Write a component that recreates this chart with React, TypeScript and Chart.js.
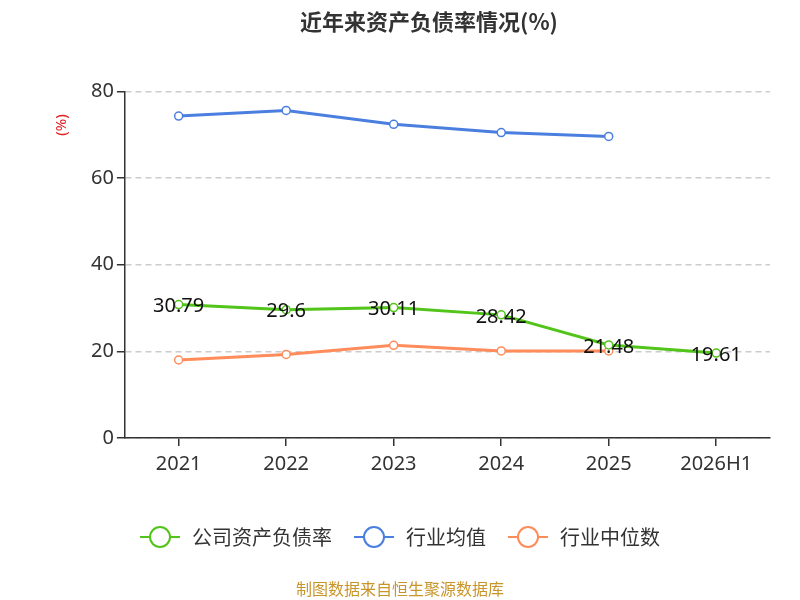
import React, { useEffect, useRef } from "react";
import { Chart, registerables } from "chart.js";
Chart.register(...registerables);

const categories = ["2021", "2022", "2023", "2024", "2025", "2026H1"];
const company = [30.79, 29.6, 30.11, 28.42, 21.48, 19.61];
const industryAvg = [74.3, 75.6, 72.4, 70.5, 69.6, null];
const industryMedian = [18.0, 19.3, 21.4, 20.1, 20.1, null];
const yTicks = [0, 20, 40, 60, 80];
const seriesNames = ["公司资产负债率", "行业均值", "行业中位数"];
const seriesColors = ["#52c41a", "#4a7fe0", "#ff8c5a"];

const labelPlugin = {
  id: "extras",
  afterDatasetsDraw(chart: any) {
    const ctx = chart.ctx;
    const meta = chart.getDatasetMeta(0);
    ctx.save();
    ctx.font = "20px 'Noto Sans', sans-serif";
    ctx.fillStyle = "#111";
    ctx.textAlign = "center";
    ctx.textBaseline = "middle";
    meta.data.forEach((p: any, i: number) => {
      ctx.fillText(String(company[i]), p.x, p.y + 2);
    });
    ctx.restore();
    // y title
    ctx.save();
    ctx.translate(62, 125);
    ctx.rotate(-Math.PI / 2);
    ctx.font = "15px 'Noto Sans', sans-serif";
    ctx.fillStyle = "#e02020";
    ctx.textAlign = "center";
    ctx.textBaseline = "middle";
    ctx.fillText("(%)", 0, 0);
    ctx.restore();
    // legend
    ctx.save();
    ctx.font = "20px 'Noto Sans CJK SC', sans-serif";
    ctx.textBaseline = "middle";
    const widths = seriesNames.map((n) => ctx.measureText(n).width);
    const itemW = widths.map((w) => 40 + 12 + w);
    const gap = 22;
    const total = itemW.reduce((a, b) => a + b, 0) + gap * 2;
    let x = 400 - total / 2;
    const y = 537;
    seriesNames.forEach((n, i) => {
      ctx.strokeStyle = seriesColors[i];
      ctx.lineWidth = 2;
      ctx.beginPath();
      ctx.moveTo(x, y);
      ctx.lineTo(x + 40, y);
      ctx.stroke();
      ctx.beginPath();
      ctx.arc(x + 20, y, 10, 0, Math.PI * 2);
      ctx.fillStyle = "#fff";
      ctx.fill();
      ctx.stroke();
      ctx.fillStyle = "#333";
      ctx.textAlign = "left";
      ctx.fillText(n, x + 52, y);
      x += itemW[i] + gap;
    });
    ctx.restore();
    ctx.save();
    ctx.font = "16px 'Noto Sans CJK SC', sans-serif";
    ctx.fillStyle = "#c8952a";
    ctx.textAlign = "center";
    ctx.textBaseline = "middle";
    ctx.fillText("制图数据来自恒生聚源数据库", 400, 589);
    ctx.restore();
  },
};

export default function App() {
  const ref = useRef<HTMLCanvasElement>(null);
  useEffect(() => {
    document.body.style.margin = "0";
    const mk = (label: string, data: any[], color: string) => ({
      label, data, borderColor: color, backgroundColor: "#fff",
      pointBackgroundColor: "#fff", pointBorderColor: color, pointRadius: 4,
      pointBorderWidth: 1.5, borderWidth: 3, tension: 0, spanGaps: false,
    });
    const chart = new Chart(ref.current!, {
      type: "line",
      data: {
        labels: categories,
        datasets: seriesNames.map((n, i) => mk(n, [company, industryAvg, industryMedian][i], seriesColors[i])),
      },
      options: {
        animation: false,
        responsive: false,
        layout: { padding: { left: 88, right: 30, bottom: 118, top: 0 } },
        plugins: {
          title: {
            display: true, text: "近年来资产负债率情况(%)",
            font: { size: 22, weight: "bold", family: "'Noto Sans CJK SC', sans-serif" },
            color: "#333", padding: { top: 8, bottom: 57 },
          },
          legend: { display: false },
          tooltip: { enabled: false },
        },
        scales: {
          x: {
            grid: { display: true, drawOnChartArea: false, tickLength: 8, color: "#333", lineWidth: 1.5 },
            border: { color: "#333", width: 1.5 },
            offset: true,
            ticks: { font: { size: 20, family: "'Noto Sans', sans-serif" }, color: "#333", padding: 6 },
          },
          y: {
            min: 0, max: 80,
            afterBuildTicks: (s: any) => { s.ticks = yTicks.map((v) => ({ value: v })); },
            grid: { color: "#ccc", lineWidth: 1.5, tickLength: 8, tickColor: "#333" } as any,
            border: { color: "#333", width: 1.5, dash: [6, 4] } as any,
            ticks: { font: { size: 20, family: "'Noto Sans', sans-serif" }, color: "#333" },
          },
        },
      },
      plugins: [labelPlugin],
    });
    return () => chart.destroy();
  }, []);
  return (
    <div style={{ position: "absolute", left: 0, top: 0, width: 800, height: 600 }}>
      <canvas ref={ref} width={800} height={600} />
    </div>
  );
}
